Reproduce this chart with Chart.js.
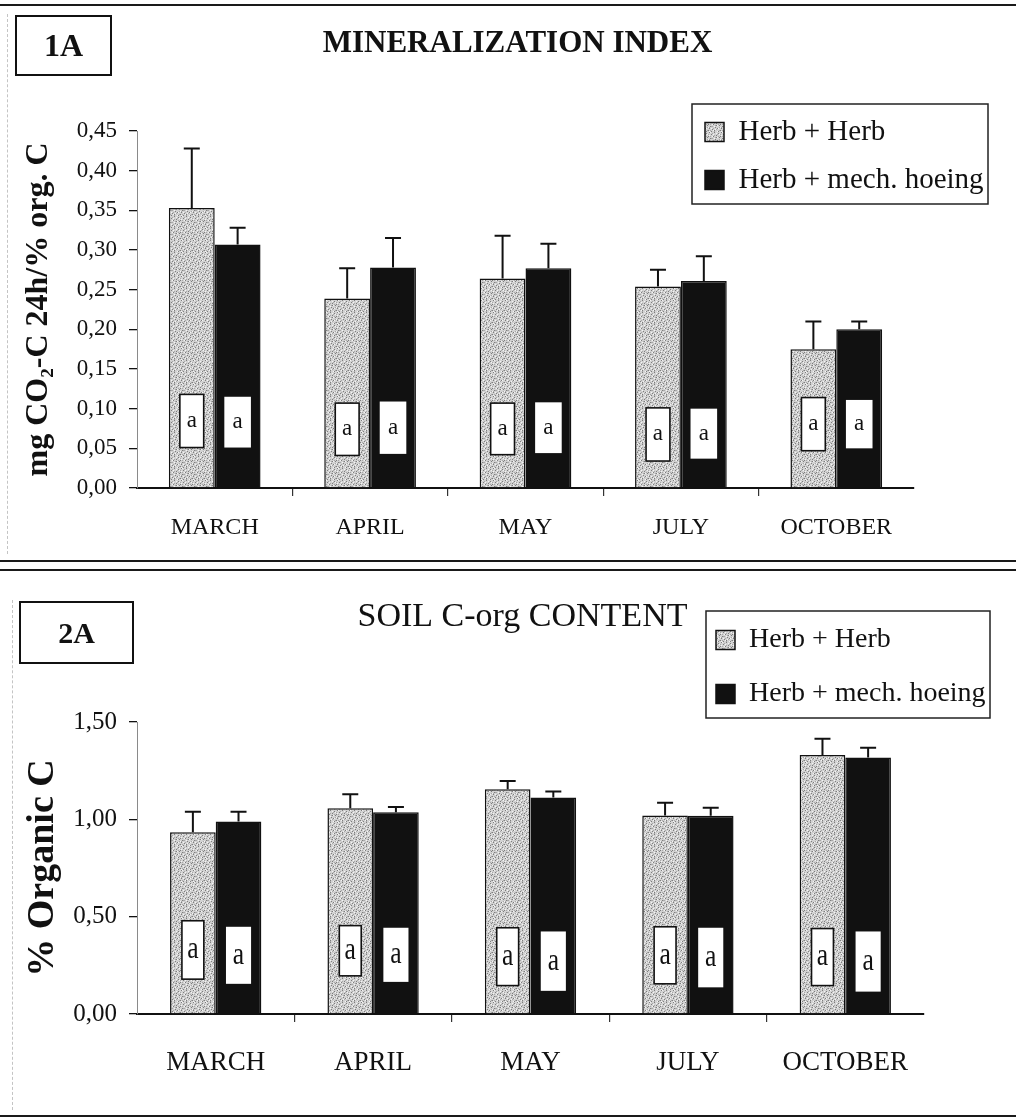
<!DOCTYPE html>
<html><head><meta charset="utf-8">
<script src="https://cdn.jsdelivr.net/npm/chart.js@4.4.1/dist/chart.umd.min.js"></script>
<style>
html,body{margin:0;padding:0;background:#fff;}
body{width:1016px;height:1119px;position:relative;overflow:hidden;font-family:'Liberation Serif','Times New Roman',serif;}
.wrap{position:absolute;left:0;width:1016px;}
.rule{position:absolute;left:0;width:1016px;background:#1a1a1a;}
.lab{position:absolute;box-sizing:border-box;border:2px solid #111;display:flex;align-items:center;justify-content:center;font-weight:bold;color:#111;}
.vdash{position:absolute;border-left:1px dashed #c4c4c4;width:0;}
</style></head><body>
<div class="vdash" style="left:7px;top:14px;height:540px"></div>
<div class="vdash" style="left:12px;top:600px;height:510px"></div>
<div class="wrap" style="top:0;height:560px"><canvas id="c1" width="1016" height="560"></canvas></div>
<div class="wrap" style="top:570px;height:549px"><canvas id="c2" width="1016" height="549"></canvas></div>
<div class="rule" style="top:4px;height:2px"></div>
<div class="rule" style="top:560px;height:2px"></div>
<div class="rule" style="top:569px;height:2px"></div>
<div class="rule" style="top:1115px;height:2px"></div>
<div class="lab" style="left:15px;top:15px;width:97px;height:61px;font-size:32px">1A</div>
<div class="lab" style="left:19px;top:601px;width:115px;height:63px;font-size:30px">2A</div>
<script>
const SERIF = "'Liberation Serif','Times New Roman',serif";

// ---- shared
const months = ['MARCH', 'APRIL', 'MAY', 'JULY', 'OCTOBER'];
const seriesNames = ['Herb + Herb', 'Herb + mech. hoeing'];

// ---- Fig. 1A : Mineralization index
const title1 = 'MINERALIZATION INDEX';
const yTitle1 = 'mg CO\u2082-C 24h/% org. C';
const minHerb = [0.353, 0.239, 0.264, 0.254, 0.175];
const minHerbErr = [0.075, 0.038, 0.054, 0.021, 0.035];
const minMech = [0.307, 0.278, 0.277, 0.261, 0.200];
const minMechErr = [0.021, 0.037, 0.031, 0.031, 0.010];
const minHerbBoxHi = [0.118, 0.107, 0.107, 0.101, 0.114];
const minHerbBoxLo = [0.051, 0.041, 0.042, 0.034, 0.047];
const minMechBoxHi = [0.115, 0.109, 0.108, 0.100, 0.111];
const minMechBoxLo = [0.051, 0.043, 0.044, 0.037, 0.050];
const minHerbLetters = ['a', 'a', 'a', 'a', 'a'];
const minMechLetters = ['a', 'a', 'a', 'a', 'a'];
const yTicks1 = [0, 0.05, 0.10, 0.15, 0.20, 0.25, 0.30, 0.35, 0.40, 0.45];
const yLabels1 = ['0,00', '0,05', '0,10', '0,15', '0,20', '0,25', '0,30', '0,35', '0,40', '0,45'];

// ---- Fig. 2A : Soil C-org content
const title2 = 'SOIL C-org CONTENT';
const yTitle2 = '% Organic C';
const orgHerb = [0.934, 1.057, 1.154, 1.020, 1.330];
const orgHerbErr = [0.105, 0.072, 0.043, 0.065, 0.084];
const orgMech = [0.989, 1.037, 1.112, 1.019, 1.317];
const orgMechErr = [0.050, 0.026, 0.031, 0.040, 0.051];
const orgHerbBoxHi = [0.479, 0.454, 0.443, 0.448, 0.439];
const orgHerbBoxLo = [0.179, 0.196, 0.146, 0.155, 0.146];
const orgMechBoxHi = [0.448, 0.443, 0.424, 0.443, 0.424];
const orgMechBoxLo = [0.155, 0.165, 0.119, 0.137, 0.115];
const orgHerbLetters = ['a', 'a', 'a', 'a', 'a'];
const orgMechLetters = ['a', 'a', 'a', 'a', 'a'];
const yTicks2 = [0, 0.5, 1.0, 1.5];
const yLabels2 = ['0,00', '0,50', '1,00', '1,50'];

// fixed stipple texture tile for the light-grey bars (style only)
const STIPPLE_DARK = [[1,0],[6,0],[10,1],[3,2],[8,3],[0,4],[5,4],[11,5],[2,6],[7,7],[9,8],[4,9],[0,10],[6,10],[10,11],[3,11],[8,5],[1,8]];
const STIPPLE_MID = [[4,1],[9,2],[0,2],[6,3],[2,4],[10,4],[7,5],[3,6],[11,7],[1,7],[5,8],[8,9],[2,10],[11,10],[6,11],[4,6]];
const STIPPLE_LIGHT = [[2,0],[8,1],[5,2],[11,2],[1,3],[4,4],[9,5],[6,6],[0,7],[3,8],[10,8],[7,9],[1,11],[5,10],[9,11]];
function stipple(ctx) {
  const c = document.createElement('canvas'); c.width = 12; c.height = 12;
  const g = c.getContext('2d');
  g.fillStyle = '#d2d2d2'; g.fillRect(0, 0, 12, 12);
  g.fillStyle = '#7e7e7e'; STIPPLE_DARK.forEach(p => g.fillRect(p[0], p[1], 1, 1));
  g.fillStyle = '#a8a8a8'; STIPPLE_MID.forEach(p => g.fillRect(p[0], p[1], 1, 1));
  g.fillStyle = '#f4f4f4'; STIPPLE_LIGHT.forEach(p => g.fillRect(p[0], p[1], 1, 1));
  return ctx.createPattern(c, 'repeat');
}

function makeOverlay(o) {
  return {
    id: 'overlay',
    afterLayout(chart) {
      const ca = chart.chartArea;
      const t = chart.titleBlock;
      if (t) {
        const w = t.right - t.left;
        const c = (ca.left + ca.right) / 2 + o.titleShift;
        t.left = c - w / 2; t.right = c + w / 2;
      }
      const lg = chart.legend;
      if (lg) {
        lg.left = ca.right + o.legendDx; lg.top = ca.top + o.legendDy;
        lg.right = lg.left + o.frame.w + 60; lg.bottom = lg.top + o.frame.h + 60;
        lg.width = lg.right - lg.left; lg.height = lg.bottom - lg.top;
      }
    },
    afterDatasetsDraw(chart) {
      const ctx = chart.ctx, ys = chart.scales.y;
      chart.data.datasets.forEach((ds, di) => {
        const meta = chart.getDatasetMeta(di);
        const err = o.errors[di], hi = o.boxHi[di], lo = o.boxLo[di], lett = o.letters[di];
        meta.data.forEach((bar, i) => {
          const x = bar.x, w = bar.width;
          ctx.save();
          ctx.strokeStyle = '#111'; ctx.lineWidth = 2;
          const yT = ys.getPixelForValue(ds.data[i] + err[i]);
          ctx.beginPath();
          ctx.moveTo(x, bar.y); ctx.lineTo(x, yT);
          ctx.moveTo(x - o.capW / 2, yT); ctx.lineTo(x + o.capW / 2, yT);
          ctx.stroke();
          const bw = w * o.boxFrac[di];
          const yh = ys.getPixelForValue(hi[i]), yl = ys.getPixelForValue(lo[i]);
          ctx.fillStyle = '#fff';
          ctx.fillRect(x - bw / 2, yh, bw, yl - yh);
          if (di === 0) { ctx.lineWidth = 1.6; ctx.strokeRect(x - bw / 2, yh, bw, yl - yh); }
          ctx.fillStyle = '#111'; ctx.font = o.letterFont;
          ctx.textAlign = 'center'; ctx.textBaseline = 'middle';
          ctx.translate(x, (yh + yl) / 2); ctx.scale(o.letterSX, 1);
          ctx.fillText(lett[i], 0, 0);
          ctx.restore();
        });
      });
    },
    afterDraw(chart) {
      const lg = chart.legend, ctx = chart.ctx;
      ctx.save(); ctx.strokeStyle = '#222'; ctx.lineWidth = 1.5;
      ctx.strokeRect(lg.left + o.frame.dx, lg.top + o.frame.dy, o.frame.w, o.frame.h);
      ctx.restore();
    }
  };
}

function build(id, s) {
  const canvas = document.getElementById(id);
  const ctx = canvas.getContext('2d');
  const pat = stipple(ctx);
  return new Chart(ctx, {
    type: 'bar',
    data: {
      labels: months,
      datasets: [
        { label: seriesNames[0], data: s.herb, backgroundColor: pat, borderColor: '#111', borderWidth: 1.5,
          categoryPercentage: s.catPct, barPercentage: 1 },
        { label: seriesNames[1], data: s.mech, backgroundColor: '#111', borderColor: '#111', borderWidth: 1.5,
          categoryPercentage: s.catPct, barPercentage: 1 }
      ]
    },
    options: {
      responsive: false, animation: false,
      layout: { padding: { left: 0, right: s.padRight, top: 0, bottom: 0 } },
      plugins: {
        title: { display: true, text: s.title, color: '#111',
          font: { family: SERIF, size: s.titleSize, weight: s.titleWeight, lineHeight: 1.2 },
          padding: { top: s.titlePadTop, bottom: s.titlePadBottom } },
        legend: { position: 'chartArea', align: 'start',
          labels: { color: '#111', font: { family: SERIF, size: s.legendSize }, boxWidth: 19, boxHeight: 19, padding: s.legendPad } },
        tooltip: { enabled: false }
      },
      scales: {
        x: {
          grid: { offset: true, drawOnChartArea: false, tickLength: 8, lineWidth: 1.2,
            color: (c) => (c.index > 0 && c.index < months.length) ? '#333' : 'rgba(0,0,0,0)' },
          border: { color: '#111', width: 2 },
          ticks: { color: '#111', font: { family: SERIF, size: s.xSize }, padding: s.xPad, maxRotation: 0, autoSkip: false },
          afterFit: (sc) => { sc.height = s.xHeight; }
        },
        y: {
          min: 0, max: s.yMax,
          afterBuildTicks: (sc) => { sc.ticks = s.yTicks.map(v => ({ value: v })); },
          ticks: { color: '#111', font: { family: SERIF, size: s.ySize }, padding: 12,
            callback: (v, i) => s.yLabels[i] },
          grid: { drawOnChartArea: false, tickLength: 8, color: '#111', lineWidth: 1.3 },
          border: { color: '#8a8a8a', width: 1, dash: [2, 3] },
          title: { display: true, text: s.yTitle, color: '#111',
            font: { family: SERIF, size: s.yTitleSize, weight: 'bold', lineHeight: 1 },
            padding: { top: s.yTitlePad, bottom: 0 } },
          afterFit: (sc) => { sc.width = 137; }
        }
      }
    },
    plugins: [makeOverlay(s.overlay)]
  });
}

build('c1', {
  herb: minHerb, mech: minMech, catPct: 0.59, padRight: 102,
  title: title1, titleSize: 31, titleWeight: 'bold', titlePadTop: 25.4, titlePadBottom: 68.4,
  legendSize: 29, legendPad: 19,
  xSize: 24, xPad: 17, xHeight: 72,
  yMax: 0.45, yTicks: yTicks1, yLabels: yLabels1, ySize: 23,
  yTitle: yTitle1, yTitleSize: 32, yTitlePad: 23,
  overlay: {
    titleShift: -8, legendDx: -228, legendDy: -32.5,
    frame: { dx: 6, dy: 5.5, w: 296, h: 100 },
    errors: [minHerbErr, minMechErr], boxHi: [minHerbBoxHi, minMechBoxHi], boxLo: [minHerbBoxLo, minMechBoxLo],
    letters: [minHerbLetters, minMechLetters], boxFrac: [0.52, 0.58], capW: 16,
    letterFont: '23px ' + SERIF, letterSX: 1
  }
});

build('c2', {
  herb: orgHerb, mech: orgMech, catPct: 0.58, padRight: 92,
  title: title2, titleSize: 34, titleWeight: 'normal', titlePadTop: 26.6, titlePadBottom: 84.6,
  legendSize: 28, legendPad: 26,
  xSize: 27, xPad: 25, xHeight: 105,
  yMax: 1.5, yTicks: yTicks2, yLabels: yLabels2, ySize: 25,
  yTitle: yTitle2, yTitleSize: 38, yTitlePad: 24,
  overlay: {
    titleShift: -8, legendDx: -234, legendDy: -122,
    frame: { dx: 16, dy: 11, w: 284, h: 107 },
    errors: [orgHerbErr, orgMechErr], boxHi: [orgHerbBoxHi, orgMechBoxHi], boxLo: [orgHerbBoxLo, orgMechBoxLo],
    letters: [orgHerbLetters, orgMechLetters], boxFrac: [0.48, 0.55], capW: 16,
    letterFont: '32px ' + SERIF, letterSX: 0.8
  }
});
</script>
</body></html>
